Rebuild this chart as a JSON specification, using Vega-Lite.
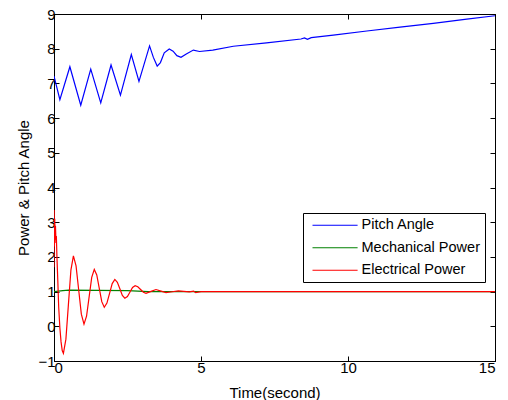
{
  "$schema": "https://vega.github.io/schema/vega-lite/v6.json",
  "width": 441,
  "height": 347,
  "autosize": "none",
  "padding": {"left": 54, "top": 14, "right": 13, "bottom": 39},
  "background": "white",
  "config": {
    "font": "Liberation Sans",
    "view": {"stroke": "black", "strokeWidth": 1},
    "axis": {
      "domainColor": "black",
      "tickColor": "black",
      "labelColor": "black",
      "titleColor": "black",
      "labelFont": "Liberation Sans",
      "titleFont": "Liberation Sans",
      "labelFontSize": 15,
      "titleFontSize": 15,
      "titleFontWeight": "normal",
      "tickSize": -5,
      "labelPadding": 4,
      "grid": false
    }
  },
  "data": {
    "values": [
      {"t": 0, "v": 7.21, "s": "Pitch Angle"},
      {"t": 0.2, "v": 6.53, "s": "Pitch Angle"},
      {"t": 0.54, "v": 7.48, "s": "Pitch Angle"},
      {"t": 0.91, "v": 6.37, "s": "Pitch Angle"},
      {"t": 1.25, "v": 7.41, "s": "Pitch Angle"},
      {"t": 1.59, "v": 6.44, "s": "Pitch Angle"},
      {"t": 1.94, "v": 7.53, "s": "Pitch Angle"},
      {"t": 2.26, "v": 6.66, "s": "Pitch Angle"},
      {"t": 2.63, "v": 7.83, "s": "Pitch Angle"},
      {"t": 2.89, "v": 7.06, "s": "Pitch Angle"},
      {"t": 3.25, "v": 8.08, "s": "Pitch Angle"},
      {"t": 3.38, "v": 7.75, "s": "Pitch Angle"},
      {"t": 3.51, "v": 7.5, "s": "Pitch Angle"},
      {"t": 3.62, "v": 7.6, "s": "Pitch Angle"},
      {"t": 3.75, "v": 7.88, "s": "Pitch Angle"},
      {"t": 3.92, "v": 7.99, "s": "Pitch Angle"},
      {"t": 4.05, "v": 7.93, "s": "Pitch Angle"},
      {"t": 4.18, "v": 7.8, "s": "Pitch Angle"},
      {"t": 4.32, "v": 7.75, "s": "Pitch Angle"},
      {"t": 4.5, "v": 7.85, "s": "Pitch Angle"},
      {"t": 4.74, "v": 7.96, "s": "Pitch Angle"},
      {"t": 4.95, "v": 7.92, "s": "Pitch Angle"},
      {"t": 5.4, "v": 7.96, "s": "Pitch Angle"},
      {"t": 6.1, "v": 8.07, "s": "Pitch Angle"},
      {"t": 7.23, "v": 8.17, "s": "Pitch Angle"},
      {"t": 8.4, "v": 8.28, "s": "Pitch Angle"},
      {"t": 8.52, "v": 8.31, "s": "Pitch Angle"},
      {"t": 8.62, "v": 8.27, "s": "Pitch Angle"},
      {"t": 8.75, "v": 8.32, "s": "Pitch Angle"},
      {"t": 9.5, "v": 8.39, "s": "Pitch Angle"},
      {"t": 10.64, "v": 8.51, "s": "Pitch Angle"},
      {"t": 11.77, "v": 8.62, "s": "Pitch Angle"},
      {"t": 12.9, "v": 8.73, "s": "Pitch Angle"},
      {"t": 14.04, "v": 8.85, "s": "Pitch Angle"},
      {"t": 15, "v": 8.95, "s": "Pitch Angle"},

      {"t": 0, "v": 1.0, "s": "Mechanical Power"},
      {"t": 0.3, "v": 1.03, "s": "Mechanical Power"},
      {"t": 0.5, "v": 1.04, "s": "Mechanical Power"},
      {"t": 2.5, "v": 1.03, "s": "Mechanical Power"},
      {"t": 3.2, "v": 1.0, "s": "Mechanical Power"},
      {"t": 15, "v": 1.0, "s": "Mechanical Power"},

      {"t": 0, "v": 1.7, "s": "Electrical Power"},
      {"t": 0.005, "v": 3.35, "s": "Electrical Power"},
      {"t": 0.015, "v": 2.3, "s": "Electrical Power"},
      {"t": 0.025, "v": 3.1, "s": "Electrical Power"},
      {"t": 0.035, "v": 2.4, "s": "Electrical Power"},
      {"t": 0.05, "v": 2.9, "s": "Electrical Power"},
      {"t": 0.065, "v": 2.5, "s": "Electrical Power"},
      {"t": 0.08, "v": 2.6, "s": "Electrical Power"},
      {"t": 0.1, "v": 2.0, "s": "Electrical Power"},
      {"t": 0.13, "v": 1.3, "s": "Electrical Power"},
      {"t": 0.16, "v": 0.55, "s": "Electrical Power"},
      {"t": 0.2, "v": -0.05, "s": "Electrical Power"},
      {"t": 0.24, "v": -0.45, "s": "Electrical Power"},
      {"t": 0.28, "v": -0.7, "s": "Electrical Power"},
      {"t": 0.32, "v": -0.78, "s": "Electrical Power"},
      {"t": 0.405, "v": -0.37, "s": "Electrical Power"},
      {"t": 0.49, "v": 0.625, "s": "Electrical Power"},
      {"t": 0.575, "v": 1.62, "s": "Electrical Power"},
      {"t": 0.66, "v": 2.03, "s": "Electrical Power"},
      {"t": 0.75, "v": 1.74, "s": "Electrical Power"},
      {"t": 0.84, "v": 1.045, "s": "Electrical Power"},
      {"t": 0.93, "v": 0.35, "s": "Electrical Power"},
      {"t": 1.02, "v": 0.06, "s": "Electrical Power"},
      {"t": 1.107, "v": 0.29, "s": "Electrical Power"},
      {"t": 1.195, "v": 0.85, "s": "Electrical Power"},
      {"t": 1.283, "v": 1.41, "s": "Electrical Power"},
      {"t": 1.37, "v": 1.64, "s": "Electrical Power"},
      {"t": 1.455, "v": 1.48, "s": "Electrical Power"},
      {"t": 1.54, "v": 1.095, "s": "Electrical Power"},
      {"t": 1.625, "v": 0.71, "s": "Electrical Power"},
      {"t": 1.71, "v": 0.55, "s": "Electrical Power"},
      {"t": 1.8, "v": 0.67, "s": "Electrical Power"},
      {"t": 1.89, "v": 0.95, "s": "Electrical Power"},
      {"t": 1.98, "v": 1.23, "s": "Electrical Power"},
      {"t": 2.07, "v": 1.35, "s": "Electrical Power"},
      {"t": 2.155, "v": 1.27, "s": "Electrical Power"},
      {"t": 2.24, "v": 1.08, "s": "Electrical Power"},
      {"t": 2.325, "v": 0.89, "s": "Electrical Power"},
      {"t": 2.41, "v": 0.81, "s": "Electrical Power"},
      {"t": 2.497, "v": 0.86, "s": "Electrical Power"},
      {"t": 2.585, "v": 0.99, "s": "Electrical Power"},
      {"t": 2.672, "v": 1.12, "s": "Electrical Power"},
      {"t": 2.76, "v": 1.17, "s": "Electrical Power"},
      {"t": 2.85, "v": 1.14, "s": "Electrical Power"},
      {"t": 2.945, "v": 1.06, "s": "Electrical Power"},
      {"t": 3.04, "v": 0.98, "s": "Electrical Power"},
      {"t": 3.13, "v": 0.95, "s": "Electrical Power"},
      {"t": 3.3, "v": 1.005, "s": "Electrical Power"},
      {"t": 3.47, "v": 1.06, "s": "Electrical Power"},
      {"t": 3.64, "v": 1.015, "s": "Electrical Power"},
      {"t": 3.81, "v": 0.97, "s": "Electrical Power"},
      {"t": 4.02, "v": 0.995, "s": "Electrical Power"},
      {"t": 4.23, "v": 1.02, "s": "Electrical Power"},
      {"t": 4.6, "v": 0.99, "s": "Electrical Power"},
      {"t": 4.75, "v": 1.01, "s": "Electrical Power"},
      {"t": 4.82, "v": 0.97, "s": "Electrical Power"},
      {"t": 5.0, "v": 1.0, "s": "Electrical Power"},
      {"t": 15, "v": 1.0, "s": "Electrical Power"}
    ]
  },
  "layer": [
    {
      "mark": {"type": "line", "strokeWidth": 1.2, "clip": true},
      "encoding": {
        "x": {
          "field": "t", "type": "quantitative",
          "scale": {"domain": [0, 15], "nice": false, "zero": false},
          "axis": {"orient": "bottom", "values": [0, 5, 10, 15], "title": "Time(second)", "titleBaseline": "middle", "titleX": 220.5, "titleY": 31}
        },
        "y": {
          "field": "v", "type": "quantitative",
          "scale": {"domain": [-1, 9], "nice": false, "zero": false},
          "axis": {"orient": "left", "values": [-1, 0, 1, 2, 3, 4, 5, 6, 7, 8, 9], "title": "Power & Pitch Angle", "titleBaseline": "middle", "titleAngle": 270, "titleX": -31, "titleY": 173.5}
        },
        "color": {
          "field": "s", "type": "nominal",
          "scale": {"domain": ["Pitch Angle", "Mechanical Power", "Electrical Power"], "range": ["#0000ff", "#008000", "#ff0000"]},
          "legend": {
            "orient": "none", "legendX": 249, "legendY": 199,
            "title": null,
            "strokeColor": "black", "fillColor": "white",
            "padding": 5, "cornerRadius": 0,
            "symbolType": "M-0.5,0H7.7", "symbolSize": 121, "symbolStrokeWidth": 1,
            "labelFont": "Liberation Sans", "labelFontSize": 14.5, "labelColor": "black",
            "labelOffset": 39, "rowPadding": 7.5
          }
        }
      }
    },
    {
      "mark": {"type": "line", "opacity": 0},
      "encoding": {
        "x": {
          "field": "t", "type": "quantitative",
          "axis": {"orient": "top", "values": [0, 5, 10, 15], "labels": false, "title": null}
        },
        "y": {
          "field": "v", "type": "quantitative",
          "axis": {"orient": "right", "values": [-1, 0, 1, 2, 3, 4, 5, 6, 7, 8, 9], "labels": false, "title": null}
        },
        "detail": {"field": "s"}
      }
    }
  ],
  "resolve": {"axis": {"x": "independent", "y": "independent"}}
}
